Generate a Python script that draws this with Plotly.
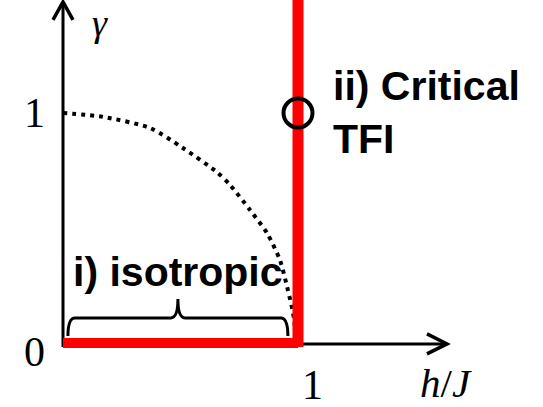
import plotly.graph_objects as go

# ---- data ----
# dotted boundary curve (h/J, gamma)
curve_x = [0.0, 0.17, 0.37, 0.51, 0.655, 0.711, 0.796, 0.868, 0.923, 0.957, 0.979, 0.995]
curve_y = [1.0, 0.983, 0.935, 0.848, 0.743, 0.687, 0.578, 0.478, 0.361, 0.230, 0.130, 0.0]

# red critical lines
iso_x = [0.0, 1.0]          # isotropic segment along gamma = 0
iso_y = [0.0, 0.0]
tfi_x = [1.0, 1.0]          # critical line at h/J = 1
tfi_y = [-0.017, 1.6]

# critical TFI point
point_x = [1.0]
point_y = [1.0]

# tick labels
x_tick_vals = [1]
x_tick_text = ["1"]
y_tick_vals = [0, 1]
y_tick_text = ["0", "1"]

# brace span under "isotropic"
brace_x = [0.021, 0.957]
brace_y = [0.03, 0.109, 0.191]  # ends, bar, tip

# axis extents
X_TIP = 1.634
Y_TIP = 1.483

# ---- figure ----
W, H = 543, 407
PX_X = 235.0   # pixels per unit along x
PX_Y = 230.0   # pixels per unit along y
X0_PX, Y0_PX = 63, 343
xr = [-X0_PX / PX_X, (W - X0_PX) / PX_X]
yr = [-(H - Y0_PX) / PX_Y, Y0_PX / PX_Y]

fig = go.Figure()

fig.add_trace(go.Scatter(
    x=curve_x, y=curve_y, mode="lines",
    line=dict(color="black", width=4, dash="4px,5px", shape="spline", smoothing=0.7),
    hoverinfo="skip", showlegend=False))

fig.add_trace(go.Scatter(
    x=iso_x, y=iso_y, mode="lines",
    line=dict(color="#ff0000", width=10),
    hoverinfo="skip", showlegend=False))

fig.add_trace(go.Scatter(
    x=tfi_x, y=tfi_y, mode="lines",
    line=dict(color="#ff0000", width=11),
    hoverinfo="skip", showlegend=False))

fig.add_trace(go.Scatter(
    x=point_x, y=point_y, mode="markers",
    marker=dict(symbol="circle-open", size=29, color="black",
                line=dict(color="black", width=4)),
    hoverinfo="skip", showlegend=False))

ax_dx = 10 / PX_X
ax_dy = 18 / PX_Y
ay_dx = 20 / PX_X
ay_dy = 10 / PX_Y

shapes = [
    # y axis with open arrow head
    dict(type="line", x0=0, y0=-0.017, x1=0, y1=Y_TIP, xref="x", yref="y",
         line=dict(color="black", width=3), layer="below"),
    dict(type="path",
         path=f"M {-ax_dx},{Y_TIP-ax_dy} L 0,{Y_TIP} L {ax_dx},{Y_TIP-ax_dy}",
         xref="x", yref="y", line=dict(color="black", width=3.5), layer="below"),
    # x axis with open arrow head
    dict(type="line", x0=0, y0=-0.004, x1=X_TIP, y1=-0.004, xref="x", yref="y",
         line=dict(color="black", width=3), layer="below"),
    dict(type="path",
         path=f"M {X_TIP-ay_dx},{ay_dy-0.004} L {X_TIP},-0.004 L {X_TIP-ay_dx},{-ay_dy-0.004}",
         xref="x", yref="y", line=dict(color="black", width=3.5), layer="below"),
]

# curly brace
bx0, bx1 = brace_x
by_end, by_bar, by_tip = brace_y
bmid = (bx0 + bx1) / 2
rx = 0.03
shapes.append(dict(
    type="path", xref="x", yref="y", layer="below",
    path=(f"M {bx0},{by_end} Q {bx0},{by_bar} {bx0+rx},{by_bar} "
          f"L {bmid-rx},{by_bar} Q {bmid},{by_bar} {bmid},{by_tip} "
          f"Q {bmid},{by_bar} {bmid+rx},{by_bar} "
          f"L {bx1-rx},{by_bar} Q {bx1},{by_bar} {bx1},{by_end}"),
    line=dict(color="black", width=3)))

serif = "Liberation Serif, DejaVu Serif, serif"
sans = "Liberation Sans, Arial, sans-serif"

def px_to_x(px):
    return (px - X0_PX) / PX_X

def px_to_y(py):
    return (Y0_PX - py) / PX_Y

annotations = []
# tick labels
for v, t in zip(x_tick_vals, x_tick_text):
    annotations.append(dict(x=v + 14 / PX_X, y=px_to_y(385), text=t, showarrow=False,
                            font=dict(family=serif, size=42, color="black"),
                            xanchor="center", yanchor="middle"))
for v, t in zip(y_tick_vals, y_tick_text):
    annotations.append(dict(x=px_to_x(34), y=v - (9 / PX_Y if v == 0 else 0), text=t,
                            showarrow=False,
                            font=dict(family=serif, size=42, color="black"),
                            xanchor="center", yanchor="middle"))
# axis titles
annotations.append(dict(x=px_to_x(100), y=px_to_y(23), text="<i>γ</i>", showarrow=False,
                        font=dict(family=serif, size=38, color="black"),
                        xanchor="center", yanchor="middle"))
annotations.append(dict(x=px_to_x(446), y=px_to_y(383), text="<i>h</i>/<i>J</i>", showarrow=False,
                        font=dict(family=serif, size=41, color="black"),
                        xanchor="center", yanchor="middle"))
# region labels
annotations.append(dict(x=px_to_x(178), y=px_to_y(272), text="<b>i) isotropic</b>", showarrow=False,
                        font=dict(family=sans, size=41, color="black"),
                        xanchor="center", yanchor="middle"))
annotations.append(dict(x=px_to_x(331), y=px_to_y(112), text="<b>ii) Critical<br>TFI</b>",
                        showarrow=False, align="left",
                        font=dict(family=sans, size=41, color="black"),
                        xanchor="left", yanchor="middle"))

fig.update_layout(
    width=W, height=H, autosize=False,
    margin=dict(l=0, r=0, t=0, b=0, pad=0),
    paper_bgcolor="white", plot_bgcolor="white",
    xaxis=dict(range=xr, visible=False, fixedrange=True),
    yaxis=dict(range=yr, visible=False, fixedrange=True),
    shapes=shapes, annotations=annotations,
    showlegend=False,
)

fig.write_html("out.html", config={"displayModeBar": False},
               post_script="document.body.style.margin='0';document.body.style.overflow='hidden';")
